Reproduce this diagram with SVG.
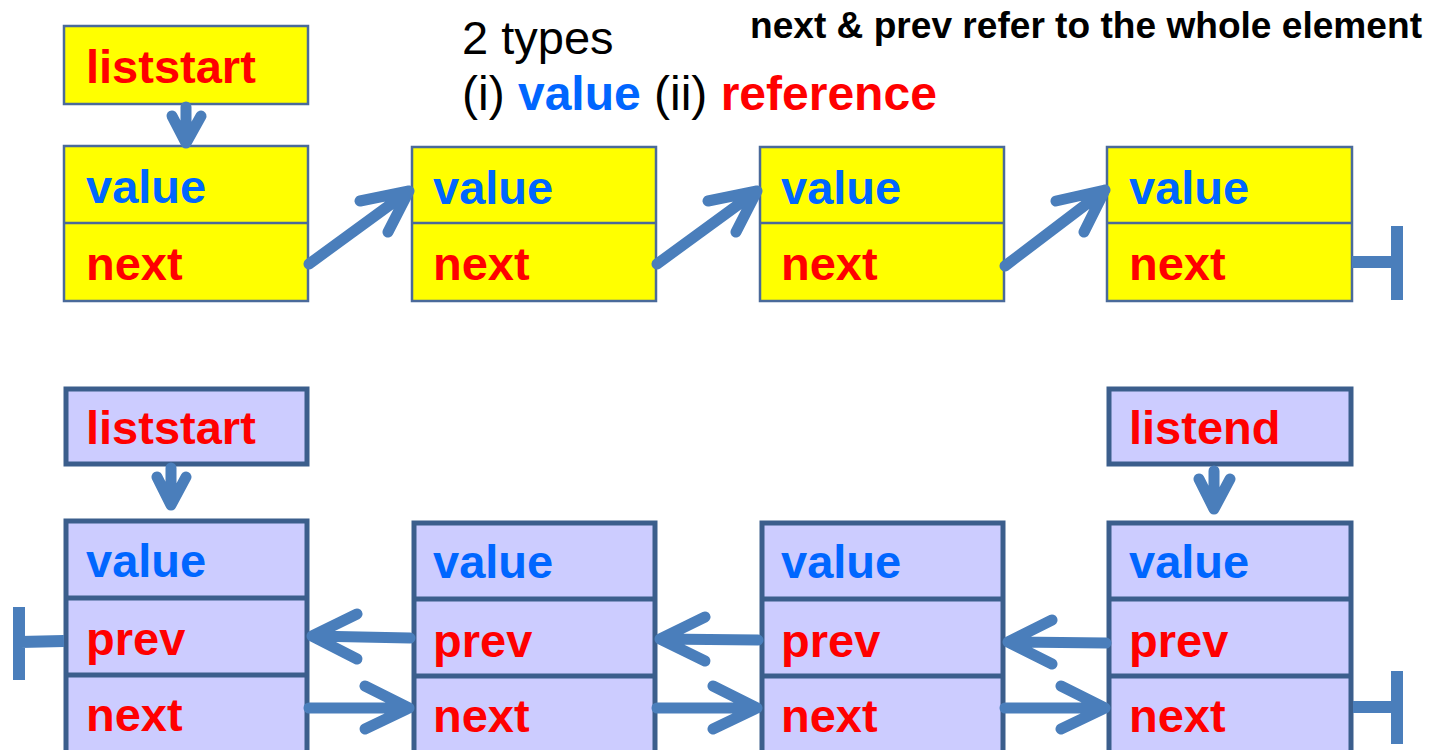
<svg xmlns="http://www.w3.org/2000/svg" width="1432" height="750" viewBox="0 0 1432 750">
<style>
.ybox{fill:#FFFF00;stroke:#4A6A9A;stroke-width:2.5}
.ydiv{stroke:#4A6A9A;stroke-width:2.5}
.pbox{fill:#CCCCFF;stroke:#3B5E8C;stroke-width:5}
.pdiv{stroke:#3B5E8C;stroke-width:5}
.lbl{font-family:"Liberation Sans",Arial,sans-serif;font-weight:bold;font-size:47px}
.val{fill:#0066FF}
.ref{fill:#FF0000}
.conn{fill:none;stroke:#4A7EBB;stroke-width:11;stroke-linecap:round;stroke-linejoin:round}
.term{fill:none;stroke:#4A7EBB;stroke-width:12}
.hd{font-family:"Liberation Sans",Arial,sans-serif;fill:#000}
</style>
<rect width="1432" height="750" fill="#FFFFFF"/>
<g id="title">
<text class="hd" x="462" y="54" font-size="47">2 types</text>
<text class="hd" x="462" y="110" font-size="48">(i) <tspan class="val" font-weight="bold">value</tspan> (ii) <tspan class="ref" font-weight="bold">reference</tspan></text>
<text class="hd" x="750" y="38" font-size="36" font-weight="bold" textLength="672" lengthAdjust="spacingAndGlyphs">next &amp; prev refer to the whole element</text>
</g>
<g id="s-liststart">
<rect class="ybox" x="64" y="26" width="244" height="78"/>
<text class="lbl ref" x="86" y="83">liststart</text>
</g>
<g id="s-node1">
<rect class="ybox" x="64" y="146" width="244" height="155"/>
<line class="ydiv" x1="64" y1="223" x2="308" y2="223"/>
<text class="lbl val" x="86" y="203">value</text>
<text class="lbl ref" x="86" y="280">next</text>
</g>
<g id="s-node2">
<rect class="ybox" x="412" y="147" width="244" height="154"/>
<line class="ydiv" x1="412" y1="223" x2="656" y2="223"/>
<text class="lbl val" x="433" y="204">value</text>
<text class="lbl ref" x="433" y="280">next</text>
</g>
<g id="s-node3">
<rect class="ybox" x="760" y="147" width="244" height="154"/>
<line class="ydiv" x1="760" y1="223" x2="1004" y2="223"/>
<text class="lbl val" x="781" y="204">value</text>
<text class="lbl ref" x="781" y="280">next</text>
</g>
<g id="s-node4">
<rect class="ybox" x="1107" y="147" width="245" height="154"/>
<line class="ydiv" x1="1107" y1="223" x2="1352" y2="223"/>
<text class="lbl val" x="1129" y="204">value</text>
<text class="lbl ref" x="1129" y="280">next</text>
</g>
<g id="d-liststart">
<rect class="pbox" x="66" y="389" width="241" height="75"/>
<text class="lbl ref" x="86" y="444">liststart</text>
</g>
<g id="d-listend">
<rect class="pbox" x="1109" y="389" width="242" height="75"/>
<text class="lbl ref" x="1129" y="444">listend</text>
</g>
<g id="d-node1">
<rect class="pbox" x="66" y="521" width="241" height="245"/>
<line class="pdiv" x1="66" y1="598" x2="307" y2="598"/>
<line class="pdiv" x1="66" y1="675" x2="307" y2="675"/>
<text class="lbl val" x="86" y="577">value</text>
<text class="lbl ref" x="86" y="655">prev</text>
<text class="lbl ref" x="86" y="731">next</text>
</g>
<g id="d-node2">
<rect class="pbox" x="414" y="523" width="241" height="245"/>
<line class="pdiv" x1="414" y1="599" x2="655" y2="599"/>
<line class="pdiv" x1="414" y1="676" x2="655" y2="676"/>
<text class="lbl val" x="433" y="578">value</text>
<text class="lbl ref" x="433" y="657">prev</text>
<text class="lbl ref" x="433" y="732">next</text>
</g>
<g id="d-node3">
<rect class="pbox" x="762" y="523" width="241" height="245"/>
<line class="pdiv" x1="762" y1="599" x2="1003" y2="599"/>
<line class="pdiv" x1="762" y1="676" x2="1003" y2="676"/>
<text class="lbl val" x="781" y="578">value</text>
<text class="lbl ref" x="781" y="657">prev</text>
<text class="lbl ref" x="781" y="732">next</text>
</g>
<g id="d-node4">
<rect class="pbox" x="1109" y="523" width="242" height="245"/>
<line class="pdiv" x1="1109" y1="599" x2="1351" y2="599"/>
<line class="pdiv" x1="1109" y1="676" x2="1351" y2="676"/>
<text class="lbl val" x="1129" y="578">value</text>
<text class="lbl ref" x="1129" y="657">prev</text>
<text class="lbl ref" x="1129" y="732">next</text>
</g>
<g id="connectors">
<path class="conn" d="M186 107 L186 143 M172 116 L186 143 L201 116" stroke-width="9"/>
<path class="conn" d="M309 264 L409 191 M360 201 L409 191 L388 232"/>
<path class="conn" d="M657 264 L757 191 M708 201 L757 191 L736 232"/>
<path class="conn" d="M1005 266 L1105 190 M1056 201 L1105 190 L1084 232"/>
<path class="term" d="M1352 262 L1397 262 M1397 226 L1397 300"/>
<path class="conn" d="M171 468 L171 505 M157 477 L171 505 L186 477" stroke-width="9"/>
<path class="conn" d="M1214 471 L1214 509 M1199 479 L1214 509 L1230 479" stroke-width="9"/>
<path class="conn" d="M410 638 L312 636 M357 614 L312 636 L357 659"/>
<path class="conn" d="M758 640 L660 639 M705 617 L660 639 L705 661"/>
<path class="conn" d="M1106 643 L1008 642 M1052 620 L1008 642 L1052 664"/>
<path class="conn" d="M309 708 L409 708 M365 686 L409 708 L365 729"/>
<path class="conn" d="M657 708 L757 708 M713 686 L757 708 L713 729"/>
<path class="conn" d="M1005 708 L1105 708 M1061 686 L1105 708 L1061 729"/>
<path class="term" d="M64 641 L20 642 M19 607 L19 680"/>
<path class="term" d="M1353 707 L1397 707 M1397 671 L1397 744"/>
</g>
</svg>
